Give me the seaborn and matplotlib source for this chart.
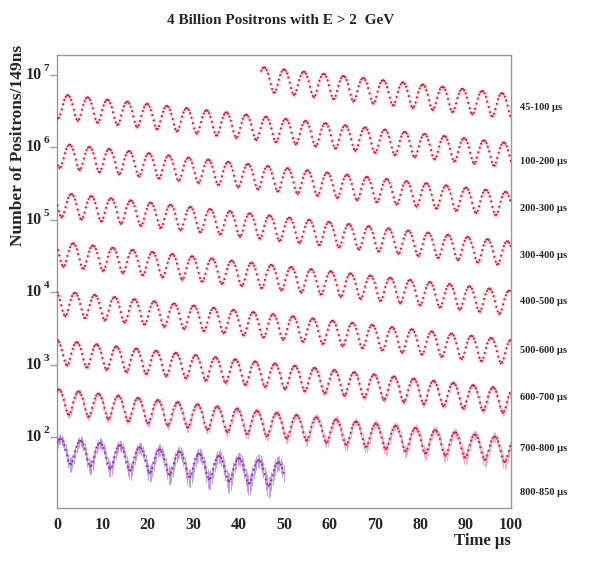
import numpy as np
import pandas as pd
import matplotlib
matplotlib.use("Agg")
import matplotlib.pyplot as plt
import seaborn as sns
from matplotlib.ticker import MultipleLocator, LogLocator, NullFormatter

# each strip is 100 us of real time, folded back onto the 0-100 us axis
strip_labels = ["45-100 µs", "100-200 µs", "200-300 µs", "300-400 µs", "400-500 µs",
                "500-600 µs", "600-700 µs", "700-800 µs", "800-850 µs"]
strip_start = [45, 100, 200, 300, 400, 500, 600, 700, 800]
strip_end = [100, 200, 300, 400, 500, 600, 700, 800, 850]

# mean level at 45 us, decay time, wiggle size/period/phase
count_at_45us = 9.3e6
lifetime_us = 64.0
asymmetry = 0.37
period_us = 4.365
first_peak_us = 45.65
bin_us = 2 * 0.149   # one drawn point every 2 bins of 149 ns

t = np.arange(45, 850, bin_us)
counts = count_at_45us * np.exp(-(t - 45) / lifetime_us) * \
    (1 + asymmetry * np.cos(2 * np.pi * (t - first_peak_us) / period_us))
strip = np.searchsorted(strip_end, t, side="right")
df = pd.DataFrame({"t": t, "counts": counts, "strip": strip})
df["tfold"] = df["t"] - 100 * (df["t"] // 100)
df.loc[df["t"] < 100, "tfold"] = df["t"]
df["err"] = 1.5 * np.sqrt(df["counts"])

sns.set_style("white")
plt.rcParams["font.family"] = ["Liberation Serif", "DejaVu Serif"]
plt.rcParams["font.weight"] = "bold"

fig = plt.figure(figsize=(5.98, 5.62), dpi=100)
ax = fig.add_axes([0.0953, 0.096, 0.7592, 0.8061])
ax.set_yscale("log")

# pink halo round the points, error bars where they show
ax.scatter(df["tfold"], df["counts"], s=9, color="#f9d3db", linewidths=0, zorder=1)
low = df[df["strip"] >= 6]
ax.vlines(low["tfold"], low["counts"] - low["err"], low["counts"] + low["err"],
          color=["#b9a2ea" if s == 8 else "#f2aec3" for s in low["strip"]],
          lw=0.8, zorder=2)

pal = {i: "#b3283a" for i in range(9)}
pal[6] = "#ad2a50"
pal[7] = "#a52d68"
pal[8] = "#9c3484"
sns.scatterplot(data=df, x="tfold", y="counts", hue="strip", palette=pal, s=2.2,
                linewidth=0, legend=False, ax=ax, zorder=3)

ax.set_xlim(0, 100)
ax.set_ylim(10 ** 1.02, 10 ** 7.27)
ax.set_xlabel("")
ax.set_ylabel("")

for sp in ax.spines.values():
    sp.set_color("#9a9a9a")
    sp.set_linewidth(1)

ax.xaxis.set_major_locator(MultipleLocator(10))
ax.xaxis.set_minor_locator(MultipleLocator(2))
ax.yaxis.set_major_locator(LogLocator(base=10))
ax.yaxis.set_minor_locator(LogLocator(base=10, subs=np.arange(2, 10)))
ax.yaxis.set_major_formatter(NullFormatter())
ax.yaxis.set_minor_formatter(NullFormatter())
ax.tick_params(axis="both", which="both", direction="out", color="#9a9a9a", width=1)
ax.tick_params(axis="both", which="major", length=5)
ax.tick_params(axis="both", which="minor", length=3)
ax.tick_params(axis="x", labelsize=11.5, pad=1.5)
ax.tick_params(axis="y", left=True)
for lab in ax.get_xticklabels():
    lab.set_fontweight("bold")

trans = matplotlib.transforms.blended_transform_factory(ax.transAxes, ax.transData)
for k in range(2, 8):
    ax.text(-0.033, 10 ** k, "10", transform=trans, ha="right", va="center",
            fontsize=11.5, fontweight="bold")
    ax.text(-0.029, 10 ** (k + 0.09), str(k), transform=trans, ha="left", va="center",
            fontsize=8, fontweight="bold")

label_y = [0.885, 0.764, 0.662, 0.558, 0.455, 0.347, 0.245, 0.132, 0.035]
for lab, yy in zip(strip_labels, label_y):
    ax.text(1.02, yy, lab, transform=ax.transAxes, ha="left", va="center",
            fontsize=7.5, fontweight="bold")

fig.text(0.47, 1 - 20 / 562, "4 Billion Positrons with E > 2  GeV",
         ha="center", va="center", fontsize=11, fontweight="bold")
fig.text(0.030, 1 - 145 / 562, "Number of Positrons/149ns", rotation=90,
         ha="center", va="center", fontsize=12.5, fontweight="bold")
fig.text(0.806, 1 - 541 / 562, "Time µs", ha="center", va="center",
         fontsize=12, fontweight="bold")

fig.savefig("out.png", dpi=100)
